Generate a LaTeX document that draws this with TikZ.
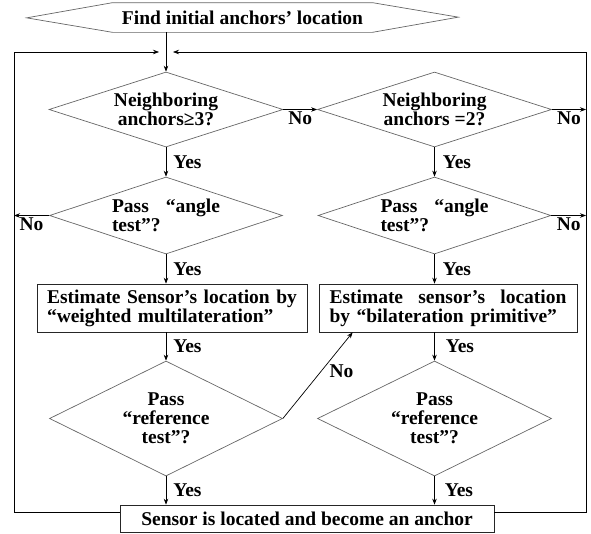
\documentclass[tikz,border=0pt]{standalone}
\usepackage{fontspec}
\setmainfont{Liberation Serif}
\usetikzlibrary{arrows.meta,shapes.geometric}

\begin{document}
\begin{tikzpicture}[x=1pt,y=-1pt,
    font=\fontsize{19.5}{19}\selectfont\bfseries,
    >={Stealth[length=6pt,width=4.5pt]},
    line width=0.7pt,
    decision/.style={diamond,draw=black!60,inner sep=0pt,align=center},
    process/.style={rectangle,draw=black!85,inner xsep=5pt,inner ysep=2pt},
    lbl/.style={inner sep=2pt}]
    \useasboundingbox (0,0) rectangle (591,533);
    % start
    \node[minimum width=259pt,minimum height=29pt,inner sep=0pt] (hex) at (242.5,17.5) {Find initial anchors’ location};
    \draw[black!60] (hex.north west) -- (hex.north east) -- ++(86,14.5) -- (hex.south east)
        -- (hex.south west) -- ++(-86,-14.5) -- cycle;
    % left column
    \node[decision,aspect=3.1,minimum width=234pt,minimum height=75pt] (nb3) at (166,109.5) {Neighboring\\anchors≥3?};
    \node[decision,aspect=3,minimum width=233pt,minimum height=77pt,text width=108pt,align=left] (ang1) at (166,215.5) {Pass\hfill “angle\\test”?};
    \node[process,minimum width=270pt,minimum height=48pt,text width=250pt,align=left] (multi) at (172,308) {Estimate Sensor’s location by\\“weighted multilateration”};
    \node[decision,aspect=2,minimum width=233pt,minimum height=115pt] (ref1) at (166,418.5) {Pass\\“reference\\test”?};
    % right column
    \node[decision,aspect=3.1,minimum width=234pt,minimum height=75pt] (nb2) at (434.5,109.5) {Neighboring\\anchors =2?};
    \node[decision,aspect=3,minimum width=233pt,minimum height=77pt,text width=108pt,align=left] (ang2) at (434.5,215.5) {Pass\hfill “angle\\test”?};
    \node[process,minimum width=258pt,minimum height=48pt,text width=237pt,align=left] (bilat) at (448,308) {Estimate\hfill sensor’s\hfill location\\by “bilateration primitive”};
    \node[decision,aspect=2,minimum width=234pt,minimum height=115pt] (ref2) at (434.5,418.5) {Pass\\“reference\\test”?};
    % end
    \node[process,minimum width=374pt,minimum height=27pt] (final) at (307,518.5) {Sensor is located and become an anchor};
    % loop corners
    \coordinate (lt) at (14,52);
    \coordinate (lb) at (14,512);
    \coordinate (rt) at (586,52);
    \coordinate (rb) at (586,512);
    \coordinate (inL) at (159,52);
    \coordinate (inR) at (173,52);
    \draw[->] (hex.south -| nb3.north) -- (nb3.north);
    \draw[->] (final.west |- lb) -- (lb) -- (lt) -- (inL);
    \draw[->] (final.east |- rb) -- (rb) -- (rt) -- (inR);
    % no branches
    \draw[->] (nb3.east) -- node[lbl,below] {No} (nb2.west);
    \draw[->] (nb2.east) -- node[lbl,below] {No} (nb2.east -| rt);
    \draw[->] (ang1.west) -- node[lbl,below] {No} (ang1.west -| lt);
    \draw[->] (ang2.east) -- node[lbl,below] {No} (ang2.east -| rt);
    \draw[->] (ref1.east) -- node[lbl,pos=0.55,right,xshift=6pt] {No} ([xshift=34pt]bilat.south west);
    % yes branches
    \draw[->] (nb3.south) -- node[lbl,right,xshift=5pt] {Yes} (ang1.north);
    \draw[->] (ang1.south) -- node[lbl,right,xshift=5pt] {Yes} (ang1.south |- multi.north);
    \draw[->] (ang1.south |- multi.south) -- node[lbl,right,xshift=5pt] {Yes} (ref1.north);
    \draw[->] (ref1.south) -- node[lbl,right,xshift=5pt] {Yes} (ref1.south |- final.north);
    \draw[->] (nb2.south) -- node[lbl,right,xshift=6pt] {Yes} (ang2.north);
    \draw[->] (ang2.south) -- node[lbl,right,xshift=6pt] {Yes} (ang2.south |- bilat.north);
    \draw[->] (ang2.south |- bilat.south) -- node[lbl,right,xshift=9pt] {Yes} (ref2.north);
    \draw[->] (ref2.south) -- node[lbl,right,xshift=8pt] {Yes} (ref2.south |- final.north);
\end{tikzpicture}
\end{document}
